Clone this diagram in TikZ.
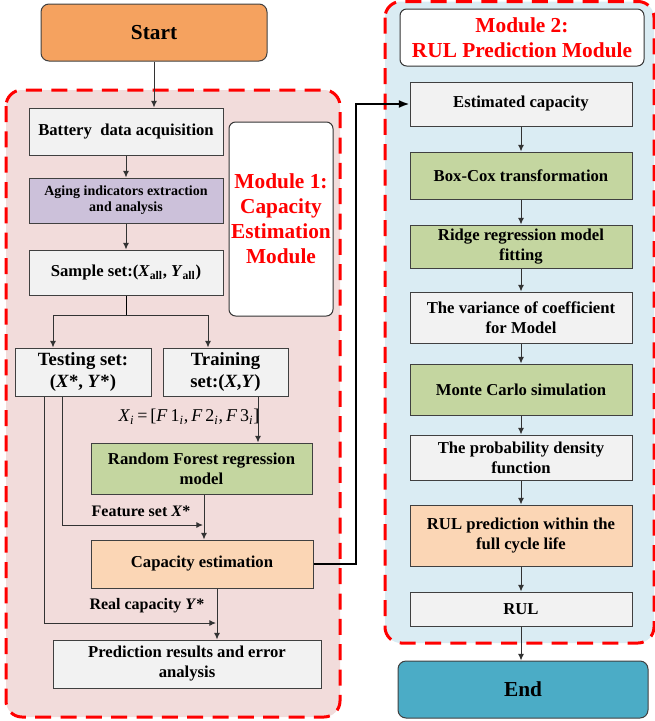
\documentclass[tikz,border=0pt]{standalone}
\usepackage{fontspec}
\setmainfont{Liberation Serif}
\usetikzlibrary{arrows.meta}

\definecolor{startorange}{RGB}{245,162,95}
\definecolor{endteal}{RGB}{75,172,198}
\definecolor{boxgray}{RGB}{242,242,242}
\definecolor{agepurple}{RGB}{204,193,218}
\definecolor{fitgreen}{RGB}{196,214,160}
\definecolor{estpeach}{RGB}{251,214,181}
\definecolor{modpink}{RGB}{242,220,219}
\definecolor{modblue}{RGB}{218,236,243}

\tikzset{every picture/.style={line width=0.75pt}}
\tikzset{
  box/.style={draw=black!75, fill=boxgray, align=center, inner sep=1pt,
    font=\bfseries\fontsize{12.5}{15}\selectfont},
  boxsize/.style 2 args={minimum width=#1*0.75pt, minimum height=#2*0.75pt},
  terminal/.style={box, rounded corners=6pt, font=\bfseries\fontsize{16}{19}\selectfont},
  modlabel/.style={draw=black!80, fill=white, rounded corners=5pt, align=center, text=red,
    inner sep=1pt, font=\bfseries\fontsize{16}{18.75}\selectfont},
  modframe/.style={draw=red, line width=2.25pt, dash pattern=on 12pt off 7pt, rounded corners=12pt},
  flow/.style={draw=black!80, -{Latex[length=5pt,width=4.5pt]}},
  link/.style={draw=black, line width=1.5pt, -{Latex[length=8pt,width=6pt]}},
  tag/.style={font=\bfseries\fontsize{12}{14}\selectfont, inner sep=1pt},
}

\begin{document}
\begin{tikzpicture}[x=0.75pt,y=0.75pt,yscale=-1,xscale=1]
	\useasboundingbox (0,0) rectangle (654,721);

	%Module frames
	\draw[modframe, fill=modpink] (6,90) rectangle (340,717);
	\draw[modframe, fill=modblue] (385,1.5) rectangle (654,643);

	%Start
	\node[terminal, fill=startorange, boxsize={226}{57}] (start) at (154,32.5) {Start};

	%Module 1: capacity estimation
	\node[modlabel, boxsize={104}{194}] (modone) at (281,219) {Module 1:\\Capacity\\Estimation\\Module};
	\node[box, boxsize={194}{47}] (battery) at (126,131.5) {Battery\ \ data acquisition};
	\node[box, fill=agepurple, boxsize={194}{45}, font=\bfseries\fontsize{10.5}{12}\selectfont] (aging) at (126,200.5) {Aging indicators extraction\\and analysis};
	\node[box, boxsize={194}{45}] (sample) at (126,272.5) {Sample set:(\textit{X}\textsubscript{all}, \textit{Y}\textsubscript{all})};
	\node[box, boxsize={136}{48}, font=\bfseries\fontsize{14}{17}\selectfont] (testing) at (83,372) {Testing set:\\(\textit{X}*, \textit{Y}*)};
	\node[box, boxsize={125}{48}, font=\bfseries\fontsize{14}{17}\selectfont] (training) at (225.5,372) {Training\\set:(\textit{X},\textit{Y})};
	\node[box, fill=fitgreen, boxsize={221}{51}] (forest) at (201.5,468.5) {Random Forest regression\\model};
	\node[box, fill=estpeach, boxsize={222}{48}] (capacity) at (202,564) {Capacity estimation};
	\node[box, boxsize={268}{48}] (predres) at (187,664) {Prediction results and error\\analysis};

	\node[inner sep=1pt, font=\fontsize{13.5}{15}\selectfont] (featvec) at (189,417)
	  {\textit{X}\textsubscript{\textit{i}}\,=\,[\textit{F}\,1\textsubscript{\textit{i}},\,\textit{F}\,2\textsubscript{\textit{i}},\,\textit{F}\,3\textsubscript{\textit{i}}]};
	\node[tag] (feattag) at (141,511) {Feature set \textit{X}*};
	\node[tag] (realtag) at (147,606) {Real capacity \textit{Y}*};

	\coordinate (split) at (126,315);
	\coordinate (testin) at (53,0);
	\coordinate (trainin) at (208,0);
	\coordinate (trainout) at (258,0);
	\coordinate (forestout) at (204,0);
	\coordinate (capout) at (217,0);
	\coordinate (featx) at (62,0);
	\coordinate (realx) at (44,0);
	\coordinate (featend) at (203,525);
	\coordinate (realend) at (216,623);

	\draw[flow] (start.south) -- (start.south |- battery.north);
	\draw[flow] (battery.south) -- (aging.north);
	\draw[flow] (aging.south) -- (sample.north);
	\draw (sample.south) -- (split);
	\draw[flow] (split) -| (testin |- testing.north);
	\draw[flow] (split) -| (trainin |- training.north);
	\draw[flow] (trainout |- training.south) -- (trainout |- forest.north);
	\draw[flow] (forestout |- forest.south) -- (forestout |- capacity.north);
	\draw[flow] (featx |- testing.south) |- (featend);
	\draw[flow] (realx |- testing.south) |- (realend);
	\draw[flow] (capout |- capacity.south) -- (capout |- predres.north);

	%Module 2: RUL prediction
	\node[modlabel, boxsize={244}{57}] (modtwo) at (522,37.5) {Module 2:\\RUL Prediction Module};
	\node[box, boxsize={222}{44}] (estcap) at (521,104) {Estimated capacity};
	\node[box, fill=fitgreen, boxsize={222}{47}] (boxcox) at (521,175.5) {Box-Cox transformation};
	\node[box, fill=fitgreen, boxsize={222}{43}] (ridge) at (521,246.5) {Ridge regression model\\fitting};
	\node[box, boxsize={222}{51}] (variance) at (521,317.5) {The variance of coefficient\\for Model};
	\node[box, fill=fitgreen, boxsize={222}{51}] (monte) at (521,389.5) {Monte Carlo simulation};
	\node[box, boxsize={222}{45}] (density) at (521,457.5) {The probability density\\function};
	\node[box, fill=estpeach, boxsize={222}{61}] (rulpred) at (521,535.5) {RUL prediction within the\\full cycle life};
	\node[box, boxsize={222}{34}] (rul) at (521,609) {RUL};
	\node[terminal, fill=endteal, boxsize={250}{57}] (finish) at (523,689.5) {End};

	\foreach \a/\b in {estcap/boxcox, boxcox/ridge, ridge/variance, variance/monte,
	  monte/density, density/rulpred, rulpred/rul, rul/finish}
	  \draw[flow] (\a.south) -- (\a.south |- \b.north);

	%Link between modules
	\draw[link] (capacity.east) -- ++(42,0) |- (estcap.west);
\end{tikzpicture}
\end{document}
